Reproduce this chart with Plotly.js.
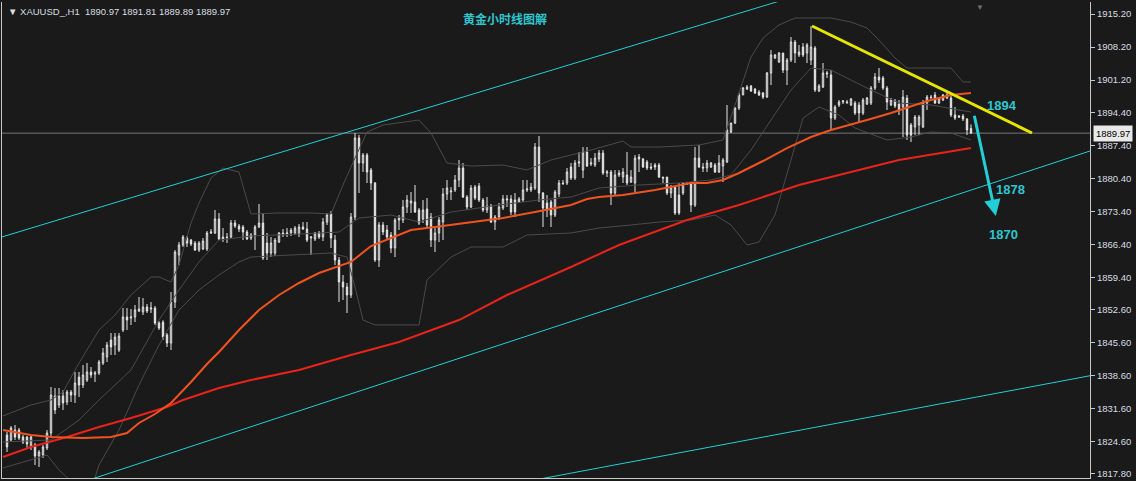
<!DOCTYPE html>
<html>
<head>
<meta charset="utf-8">
<script src="https://cdn.plot.ly/plotly-3.0.1.min.js"></script>
<style>
html,body{margin:0;padding:0;background:#1a1a1a;}
#chart{width:1136px;height:481px;}
</style>
</head>
<body>
<div id="chart"></div>
<script>
// ---------- candle data (XAUUSD H1) ----------
const open = [
1826.06,1825.00,1827.11,1827.11,1825.63,1825.63,1823.52,1823.94,1821.61,1821.82,
1823.31,1826.48,1834.31,1832.41,1834.31,1833.04,1835.16,1834.53,1838.33,1836.64,
1837.70,1839.39,1838.97,1839.18,1841.30,1842.57,1846.17,1845.11,1844.05,1848.29,
1851.04,1850.83,1851.04,1852.31,1852.10,1853.16,1852.73,1852.94,1849.77,1849.92,
1847.23,1845.53,1854.21,1864.17,1866.29,1867.77,1867.34,1866.71,1865.23,1865.44,
1865.44,1868.83,1868.83,1871.79,1867.55,1867.98,1867.98,1870.94,1870.31,1870.10,
1869.04,1867.77,1868.40,1870.10,1870.94,1866.71,1864.59,1864.59,1866.92,1868.83,
1868.61,1868.83,1868.83,1868.61,1870.10,1869.67,1867.77,1867.55,1868.83,1867.98,
1871.15,1872.85,1867.34,1863.11,1858.45,1857.39,1855.70,1872.21,1888.94,1883.65,
1885.34,1882.16,1879.41,1863.11,1870.52,1869.46,1868.40,1865.65,1871.58,1871.58,
1874.33,1875.18,1875.39,1873.70,1871.79,1873.91,1872.21,1867.34,1868.83,1871.15,
1877.08,1877.50,1877.93,1880.05,1882.59,1876.45,1874.33,1878.56,1878.78,1875.81,
1873.70,1874.54,1871.15,1872.21,1874.12,1875.81,1876.03,1875.81,1875.39,1875.81,
1877.93,1877.93,1878.35,1887.03,1877.29,1875.18,1875.39,1872.64,1877.08,1879.41,
1879.41,1882.80,1880.47,1883.65,1882.16,1885.97,1883.44,1883.22,1884.49,1885.76,
1881.53,1881.74,1877.29,1881.11,1880.68,1881.11,1879.62,1879.41,1884.92,1884.49,
1883.86,1882.80,1883.22,1883.22,1880.68,1880.68,1877.29,1878.56,1876.87,1877.29,
1879.41,1879.41,1874.75,1884.70,1882.80,1882.59,1882.80,1883.22,1881.74,1883.01,
1883.86,1890.21,1892.12,1895.30,1898.05,1899.31,1899.95,1899.31,1898.68,1898.47,
1897.62,1902.70,1905.88,1905.03,1906.94,1903.34,1905.46,1909.27,1906.52,1908.21,
1906.94,1905.46,1908.00,1898.89,1899.74,1902.49,1902.28,1893.17,1895.93,1896.56,
1896.56,1895.93,1896.35,1895.93,1894.23,1896.14,1896.35,1899.52,1901.86,1901.64,
1899.52,1895.93,1896.77,1896.14,1895.50,1897.41,1891.69,1891.27,1891.69,1891.27,
1896.35,1897.62,1898.05,1896.35,1896.99,1897.41,1897.41,1893.81,1893.60,1893.60,
1892.96,1890.97];
const high = [
1826.69,1827.96,1828.17,1827.54,1826.06,1825.84,1826.06,1824.36,1822.88,1823.94,
1827.11,1836.22,1836.01,1836.01,1835.58,1835.58,1835.58,1839.39,1839.39,1840.88,
1841.30,1840.45,1839.60,1841.94,1844.48,1845.75,1847.65,1847.65,1847.65,1852.94,
1852.94,1852.73,1853.58,1855.27,1855.06,1853.79,1854.21,1853.37,1850.19,1850.35,
1847.65,1856.33,1865.23,1866.92,1868.40,1868.19,1867.55,1867.13,1867.13,1867.77,
1869.25,1869.67,1873.70,1873.06,1869.88,1868.82,1871.58,1871.58,1870.73,1870.52,
1869.46,1868.83,1870.52,1874.97,1873.06,1868.83,1867.98,1867.77,1869.04,1869.67,
1869.88,1869.88,1870.31,1870.73,1871.15,1871.15,1868.19,1869.04,1869.25,1872.00,
1873.06,1873.48,1868.40,1863.74,1859.93,1858.24,1873.06,1890.00,1889.57,1885.76,
1885.76,1882.59,1879.62,1871.15,1871.15,1870.52,1869.04,1872.00,1872.64,1875.81,
1876.87,1877.50,1878.99,1874.12,1875.81,1876.24,1873.06,1870.10,1872.21,1878.35,
1880.05,1878.56,1881.11,1884.28,1883.65,1876.87,1878.99,1878.99,1879.41,1876.24,
1876.45,1874.97,1872.64,1875.18,1876.87,1876.87,1876.87,1877.29,1876.45,1880.05,
1880.05,1879.41,1887.88,1889.36,1877.50,1876.87,1875.81,1877.93,1880.05,1880.05,
1882.59,1883.65,1884.28,1885.97,1887.03,1887.03,1884.70,1885.76,1886.40,1886.40,
1882.16,1882.16,1882.16,1882.16,1882.59,1885.97,1882.16,1885.34,1885.55,1884.70,
1884.28,1883.65,1883.65,1883.65,1880.68,1880.68,1878.99,1878.56,1879.41,1879.62,
1879.62,1879.62,1887.03,1887.46,1883.65,1884.28,1883.86,1883.65,1885.34,1884.70,
1895.93,1892.12,1895.50,1898.47,1899.74,1900.16,1900.16,1899.52,1899.10,1898.68,
1902.91,1907.57,1906.73,1907.15,1906.94,1905.88,1910.33,1909.69,1908.63,1909.05,
1909.05,1912.65,1908.42,1900.37,1904.82,1903.13,1903.34,1895.93,1896.99,1896.99,
1896.99,1897.41,1896.77,1896.56,1897.41,1897.62,1899.95,1902.70,1903.76,1902.07,
1899.95,1897.41,1897.20,1896.99,1899.10,1898.05,1892.12,1893.81,1893.81,1896.99,
1898.05,1898.05,1898.68,1897.62,1898.26,1898.47,1897.83,1895.50,1893.81,1894.02,
1893.17,1891.81];
const low = [
1822.46,1824.58,1825.00,1825.00,1824.15,1823.31,1822.88,1819.70,1819.28,1821.19,
1822.88,1825.63,1830.50,1831.77,1831.35,1832.41,1833.04,1832.83,1834.10,1836.01,
1837.28,1838.12,1837.28,1838.76,1840.88,1841.51,1842.99,1842.99,1843.63,1847.86,
1848.29,1849.35,1849.98,1852.10,1851.46,1851.89,1851.89,1849.35,1848.29,1846.17,
1844.69,1844.05,1852.94,1862.05,1865.86,1865.86,1866.07,1865.01,1864.80,1865.23,
1865.01,1868.61,1868.61,1867.34,1866.92,1866.71,1867.77,1869.88,1869.04,1867.34,
1867.34,1867.34,1865.23,1869.88,1863.11,1863.11,1863.74,1863.95,1866.71,1867.98,
1867.98,1868.19,1868.40,1867.98,1869.46,1866.92,1864.17,1867.13,1867.55,1867.13,
1870.52,1865.65,1862.05,1854.21,1854.64,1851.89,1855.06,1871.58,1877.29,1881.74,
1879.41,1877.93,1862.69,1861.63,1868.40,1867.34,1864.59,1863.74,1869.46,1870.94,
1873.06,1873.06,1873.06,1870.52,1870.94,1870.10,1865.86,1864.80,1866.92,1867.34,
1875.81,1875.81,1877.50,1878.56,1876.24,1873.70,1874.12,1875.81,1875.39,1873.27,
1873.06,1870.94,1869.46,1871.58,1873.70,1874.33,1872.64,1872.21,1875.18,1875.39,
1877.50,1877.50,1877.93,1875.39,1870.10,1872.21,1870.10,1872.21,1876.45,1878.99,
1878.99,1880.05,1880.05,1882.80,1880.47,1882.80,1883.01,1882.80,1883.86,1881.11,
1880.68,1874.75,1876.87,1880.68,1879.41,1878.99,1879.41,1877.50,1881.74,1882.59,
1882.16,1882.16,1882.16,1880.47,1879.41,1876.87,1876.24,1872.64,1872.64,1876.87,
1878.99,1873.27,1874.33,1882.59,1881.74,1881.74,1882.59,1881.53,1881.53,1879.62,
1883.65,1890.00,1891.90,1894.87,1898.05,1899.10,1898.68,1898.26,1897.83,1897.20,
1897.41,1900.16,1905.67,1904.82,1902.70,1900.16,1905.03,1904.82,1906.09,1906.09,
1904.82,1904.40,1898.68,1898.68,1899.52,1901.64,1890.63,1892.75,1895.50,1896.14,
1896.14,1895.72,1893.81,1892.12,1893.81,1895.93,1895.93,1899.10,1900.59,1899.10,
1894.87,1895.72,1895.30,1893.81,1889.15,1888.52,1888.09,1889.57,1889.57,1891.06,
1894.87,1897.20,1896.14,1896.14,1896.77,1897.20,1893.39,1892.75,1893.17,1892.54,
1889.57,1889.89];
const close = [
1823.52,1827.54,1825.63,1825.42,1824.58,1824.15,1825.63,1821.61,1822.46,1823.52,
1826.48,1834.53,1831.35,1834.31,1832.83,1835.16,1834.53,1837.07,1836.64,1838.76,
1839.39,1838.76,1839.18,1841.51,1843.42,1845.11,1844.69,1846.80,1847.01,1851.04,
1850.40,1851.04,1852.52,1852.73,1853.16,1852.31,1852.94,1849.77,1848.71,1846.80,
1845.53,1854.21,1864.80,1866.29,1867.98,1866.71,1866.50,1865.23,1866.71,1867.13,
1868.83,1869.04,1871.79,1867.55,1867.98,1867.87,1870.94,1870.31,1869.67,1869.04,
1867.55,1868.40,1870.10,1870.94,1863.53,1864.59,1866.71,1867.34,1868.83,1868.61,
1868.83,1869.46,1869.88,1870.10,1869.67,1867.34,1867.98,1868.83,1867.98,1871.15,
1872.64,1867.77,1863.11,1858.45,1857.39,1855.70,1872.21,1888.94,1883.65,1885.34,
1881.74,1879.41,1863.11,1870.52,1869.04,1867.98,1865.65,1871.58,1872.00,1874.33,
1875.81,1875.60,1873.27,1870.94,1873.70,1870.52,1867.34,1868.83,1871.58,1877.08,
1878.35,1877.72,1880.05,1882.59,1876.45,1874.33,1878.35,1876.24,1875.81,1873.70,
1874.54,1871.15,1872.21,1874.33,1876.03,1876.03,1873.27,1873.27,1876.03,1877.93,
1878.14,1878.56,1887.03,1877.29,1874.12,1873.70,1872.64,1877.50,1879.41,1879.30,
1881.74,1880.47,1883.65,1883.86,1885.97,1883.01,1883.65,1884.70,1885.76,1881.53,
1881.74,1877.29,1881.11,1881.53,1881.74,1879.41,1880.68,1884.70,1884.49,1882.80,
1882.59,1882.59,1882.80,1880.68,1880.47,1877.29,1878.56,1873.06,1873.06,1879.41,
1879.20,1874.75,1884.70,1882.80,1882.59,1883.65,1883.65,1881.74,1883.65,1884.28,
1890.63,1892.12,1895.30,1898.05,1899.52,1899.74,1898.89,1898.47,1898.05,1897.62,
1902.70,1906.52,1906.52,1906.94,1903.34,1905.46,1909.27,1906.94,1907.15,1906.52,
1908.63,1908.21,1899.10,1899.95,1902.70,1902.70,1893.17,1895.50,1896.56,1896.77,
1896.46,1897.20,1894.23,1894.23,1896.99,1897.41,1899.52,1901.86,1901.22,1899.52,
1896.56,1896.99,1895.72,1894.87,1897.62,1889.57,1889.57,1893.39,1893.39,1896.35,
1897.62,1897.52,1896.35,1897.41,1898.05,1898.05,1893.81,1893.17,1893.39,1892.96,
1890.63,1889.97];

// ---------- indicators (bar index, price) ----------
const maFastIdx = [-1,6,11,19,26,30,33,37,41,46,50,53,58,63,68,73,78,86,91,101,107,116,124,132,141,145,148,154,162,171,175,179,183,189,195,201,206,215,221,227,231,236,241];
const maFastVal = [1827.11,1826.06,1825.63,1825.42,1825.63,1826.48,1828.60,1830.50,1832.83,1837.28,1841.09,1843.63,1848.29,1852.52,1855.70,1858.24,1860.36,1862.69,1866.07,1869.46,1870.10,1871.15,1872.00,1873.27,1874.75,1876.03,1876.45,1876.87,1877.93,1879.41,1879.41,1880.05,1881.53,1884.07,1886.82,1889.15,1890.63,1892.75,1894.23,1895.93,1896.99,1898.05,1898.47];
const maSlowIdx = [-1,6,15,23,31,40,44,53,61,73,86,98,113,125,141,153,170,183,198,211,223,241];
const maSlowVal = [1821.40,1823.52,1825.63,1827.75,1829.66,1831.98,1833.47,1836.01,1837.70,1839.82,1842.99,1845.75,1850.40,1855.70,1861.63,1866.29,1871.58,1874.75,1878.99,1881.74,1884.28,1886.82];
const bbUpIdx = [-1,6,11,14,18,23,27,31,36,38,41,43,46,48,51,54,58,61,68,76,81,84,87,90,94,103,106,110,116,124,130,136,146,154,156,163,173,179,182,186,189,193,197,206,211,215,218,222,225,236,239,241];
const bbUpVal = [1830.08,1832.41,1833.47,1835.16,1841.30,1848.29,1851.46,1855.70,1859.51,1859.51,1858.45,1862.05,1870.94,1875.18,1880.47,1882.59,1881.74,1872.85,1873.06,1873.06,1872.85,1878.99,1884.70,1890.21,1891.69,1892.75,1890.00,1883.65,1883.01,1883.22,1882.16,1884.28,1886.40,1888.30,1887.03,1887.03,1887.46,1888.52,1895.93,1906.09,1910.11,1912.87,1914.35,1914.35,1913.50,1912.23,1909.69,1905.88,1903.76,1903.76,1900.80,1900.80];
const bbMidIdx = [-1,11,18,23,31,38,43,48,53,61,73,83,88,96,103,111,123,133,141,148,158,168,176,181,186,191,196,201,206,211,216,223,231,238,241];
const bbMidVal = [1824.57,1825.00,1829.23,1833.47,1839.82,1850.40,1856.76,1862.69,1867.34,1868.19,1868.61,1869.04,1872.00,1872.64,1871.15,1873.27,1874.75,1875.81,1876.45,1878.35,1878.99,1879.41,1880.05,1881.11,1886.40,1892.75,1899.10,1903.76,1903.34,1901.22,1899.10,1896.35,1895.93,1894.87,1894.45];
const bbLowIdx = [-1,6,10,13,17,21,23,28,33,38,43,48,53,58,61,71,81,85,87,89,92,103,105,111,116,124,130,141,148,156,163,171,177,181,185,188,192,196,199,203,208,212,220,226,231,236,241];
const bbLowVal = [1819.07,1820.76,1821.82,1818.65,1815.47,1814.41,1819.70,1827.11,1836.64,1845.11,1852.52,1856.76,1859.93,1862.69,1863.74,1864.17,1864.59,1863.74,1857.39,1850.40,1849.35,1849.35,1858.87,1863.74,1865.86,1865.86,1868.40,1868.83,1869.88,1870.52,1871.15,1871.58,1872.64,1870.52,1866.29,1866.92,1872.64,1884.28,1893.17,1895.50,1893.81,1891.06,1888.52,1889.15,1890.21,1890.00,1888.52];

// ---------- drawn objects (bar index, price) ----------
const chanUpperIdx = [-1.5, 200];   const chanUpperVal = [1867.93, 1919.71];
const chanMidIdx   = [18, 272];     const chanMidVal   = [1815.84, 1886.54];
const chanLowIdx   = [130, 272];    const chanLowVal   = [1816.23, 1838.80];
const trendIdx     = [201.25, 256.25]; const trendVal = [1912.66, 1890.00];
const arrowIdx     = [241.75, 247.2];  const arrowVal = [1893.96, 1872.43];
const labelText    = ['1894', '1878', '1870'];
const labelIdx     = [248.75, 250.75, 249];
const labelVal     = [1895.72, 1878.14, 1868.61];

// ---------- axis ----------
const yTickVals = [1915.20,1908.20,1901.20,1894.40,1887.40,1880.40,1873.40,1866.40,1859.40,1852.60,1845.60,1838.60,1831.60,1824.60,1817.80];
const yTickText = yTickVals.map(v => v.toFixed(2));

const headerText = 'XAUUSD_,H1';
const titleText = '黄金小时线图解';

const idx = close.map((_, i) => i);
const last = close.length - 1;

const CYAN = '#22cfd6';
const TEXT = '#d8dde3';
const UIFONT = 'Liberation Sans, Arial, sans-serif';

const traces = [
  {x: bbUpIdx, y: bbUpVal, type:'scatter', mode:'lines', line:{color:'#4a4a4a', width:1}},
  {x: bbMidIdx, y: bbMidVal, type:'scatter', mode:'lines', line:{color:'#4a4a4a', width:1}},
  {x: bbLowIdx, y: bbLowVal, type:'scatter', mode:'lines', line:{color:'#4a4a4a', width:1}},
  {x: maSlowIdx, y: maSlowVal, type:'scatter', mode:'lines', line:{color:'#e8231c', width:2}},
  {x: maFastIdx, y: maFastVal, type:'scatter', mode:'lines', line:{color:'#f0531f', width:2}},
  {
    x: idx, open: open, high: high, low: low, close: close,
    type: 'candlestick', whiskerwidth: 0,
    increasing: {line:{color:'#e6e6e6', width:1}, fillcolor:'#1a1a1a'},
    decreasing: {line:{color:'#e6e6e6', width:1}, fillcolor:'#e6e6e6'}
  },
  {x: chanUpperIdx, y: chanUpperVal, type:'scatter', mode:'lines', line:{color:CYAN, width:1}},
  {x: chanMidIdx, y: chanMidVal, type:'scatter', mode:'lines', line:{color:CYAN, width:1}},
  {x: chanLowIdx, y: chanLowVal, type:'scatter', mode:'lines', line:{color:CYAN, width:1}},
  {x: trendIdx, y: trendVal, type:'scatter', mode:'lines', line:{color:'#e6e600', width:3}}
];

const annotations = [
  {xref:'paper', yref:'paper', x:0, y:1, xanchor:'left', yanchor:'top', xshift:4, yshift:-2, showarrow:false,
   text:'▼ ' + headerText + '\u00a0\u00a0' + [open[last], high[last], low[last], close[last]].map(v => v.toFixed(2)).join(' '),
   font:{family:UIFONT, size:9.5, color:TEXT}},
  {xref:'paper', yref:'paper', x:0.4623, y:0.9643, xanchor:'center', yanchor:'middle', showarrow:false,
   text:'<b>' + titleText + '</b>', font:{family:'Noto Sans CJK SC, sans-serif', size:12, color:'#2fc6cf'}},
  {xref:'paper', yref:'paper', x:0.8989, y:1, xanchor:'center', yanchor:'top', yshift:3, showarrow:false,
   text:'▼', font:{size:8, color:'#6e6e6e'}},
  {xref:'x', yref:'y', axref:'x', ayref:'y', x:arrowIdx[1], y:arrowVal[1], ax:arrowIdx[0], ay:arrowVal[0],
   showarrow:true, arrowhead:2, arrowsize:1.1, arrowwidth:3, arrowcolor:CYAN, text:''},
  {xref:'paper', yref:'y', x:1, y:close[last], xanchor:'left', yanchor:'middle', xshift:3, showarrow:false,
   text:close[last].toFixed(2), bgcolor:'#e8e8e8', borderpad:2,
   font:{family:UIFONT, size:9.5, color:'#000000'}}
];
labelText.forEach((t, k) => annotations.push({
  xref:'x', yref:'y', x:labelIdx[k], y:labelVal[k], xanchor:'center', yanchor:'middle', showarrow:false,
  text:'<b>' + t + '</b>', font:{family:'Liberation Sans, Arial, sans-serif', size:13, color:'#2fc6cf'}
}));

const layout = {
  width:1136, height:481,
  paper_bgcolor:'#1a1a1a', plot_bgcolor:'#1a1a1a',
  margin:{l:2, r:46, t:2, b:3},
  showlegend:false, hovermode:false,
  boxgap:0.5,
  xaxis:{range:[-1.25, 270.75], showgrid:false, zeroline:false, showticklabels:false, ticks:'',
         showline:true, linecolor:'#c8c8c8', linewidth:1, rangeslider:{visible:false}, fixedrange:true},
  yaxis:{side:'right', range:[1816.95, 1917.74], tickvals:yTickVals, ticktext:yTickText,
         showgrid:false, zeroline:false, showline:true, mirror:true, linecolor:'#c8c8c8', linewidth:1,
         ticks:'outside', ticklen:4, tickcolor:'#c8c8c8', tickwidth:1,
         tickfont:{family:UIFONT, size:9.5, color:TEXT}, fixedrange:true},
  shapes:[{type:'line', xref:'paper', x0:0, x1:1, yref:'y', y0:close[last], y1:close[last],
           line:{color:'#777777', width:1}, layer:'below'}],
  annotations: annotations
};

Plotly.newPlot('chart', traces, layout, {displayModeBar:false, staticPlot:true});
</script>
</body>
</html>
